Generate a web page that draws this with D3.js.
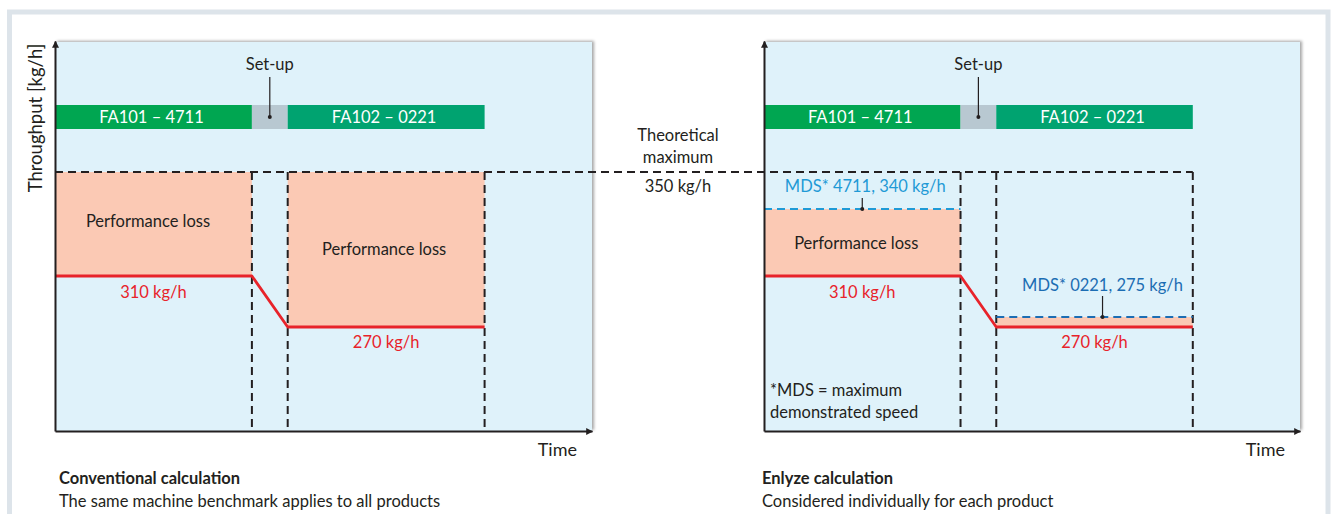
<!DOCTYPE html>
<html><head><meta charset="utf-8">
<script src="https://cdn.jsdelivr.net/npm/d3@7"></script>
<style>
html,body{margin:0;padding:0;background:#fff;}
svg{display:block;font-family:Lato,"Open Sans",sans-serif;}
</style></head>
<body>
<svg id="chart" width="1336" height="514"></svg>
<script>
// ---------- data ----------
const phaseLabels = ["FA101 – 4711", "Set-up", "FA102 – 0221"];
const phaseStart  = [0, 5.5, 6.5];
const phaseEnd    = [5.5, 6.5, 12];
const timeMax = 15;
const theoreticalMax = 350;
const actualTimes  = [0, 5.5, 6.5, 12];
const actualValues = [310, 310, 270, 270];
const actualLabels = ["310 kg/h", "270 kg/h"];
const mdsValues = [340, 275];
const mdsLabels = ["MDS* 4711, 340 kg/h", "MDS* 0221, 275 kg/h"];
// schematic (piecewise) throughput axis
const yDomain = [0, 270, 275, 310, 340, 350, 400];
const panelTitles = ["Conventional calculation", "Enlyze calculation"];
const panelSubtitles = ["The same machine benchmark applies to all products", "Considered individually for each product"];

// ---------- style ----------
const C = {panel:"#dff2fa", peach:"#fbc9b4", red:"#e8232a", ink:"#231f20", text:"#231f20",
  g1:"#00a651", g2:"#00a370", setup:"#b8c8d1", mds1:"#1f9ad6", mds2:"#1b6db3", frame:"#dde4ea"};

const svg = d3.select("#chart");
const defs = svg.append("defs");
const f = defs.append("filter").attr("id","sh").attr("x","-5%").attr("y","-5%").attr("width","110%").attr("height","110%");
f.append("feDropShadow").attr("dx",2).attr("dy",-1).attr("stdDeviation",1.8).attr("flood-color","#000").attr("flood-opacity",0.35);
defs.append("marker").attr("id","arr").attr("viewBox","0 0 10 10").attr("refX",9).attr("refY",5)
  .attr("markerWidth",7).attr("markerHeight",7).attr("markerUnits","userSpaceOnUse").attr("orient","auto")
  .append("path").attr("d","M0,0 L10,5 L0,10 Z").attr("fill",C.ink);

// outer frame
svg.append("rect").attr("x",9.5).attr("y",12).attr("width",1318.5).attr("height",540)
  .attr("fill","none").attr("stroke",C.frame).attr("stroke-width",5);

const y = d3.scaleLinear().domain(yDomain).range([431, 327, 317, 276, 209, 172, 42]);
const xL = d3.scaleLinear().domain([0, timeMax]).range([55, 592]);
const xR = d3.scaleLinear().domain([0, timeMax]).range([764, 1300]);
const barTop = 105, barH = 24;
const dash = "8,5";
const fs = 16.5;

function panel(x, idx){
  const g = svg.append("g");
  // background
  g.append("rect").attr("x",x(0)).attr("y",y(400)).attr("width",x(timeMax)-x(0)).attr("height",y(0)-y(400))
    .attr("fill",C.panel).attr("filter","url(#sh)");
  // phase bars
  const colors = [C.g1, C.setup, C.g2];
  phaseLabels.forEach((lab,i)=>{
    g.append("rect").attr("x",x(phaseStart[i])).attr("y",barTop).attr("width",x(phaseEnd[i])-x(phaseStart[i])).attr("height",barH)
      .attr("fill",colors[i]);
    if(i!==1){
      g.append("text").attr("x",(x(phaseStart[i])+x(phaseEnd[i]))/2-2).attr("y",barTop+barH/2+6)
        .attr("text-anchor","middle").attr("fill","#fff").attr("font-size",fs).text(lab);
    } else {
      const cx=(x(phaseStart[i])+x(phaseEnd[i]))/2;
      g.append("text").attr("x",cx).attr("y",70).attr("text-anchor","middle").attr("fill",C.text).attr("font-size",fs).text(lab);
      g.append("line").attr("x1",cx).attr("x2",cx).attr("y1",77).attr("y2",117).attr("stroke",C.text).attr("stroke-width",1.2);
      g.append("circle").attr("cx",cx).attr("cy",117).attr("r",2).attr("fill",C.ink);
    }
  });
  // peach loss areas
  const topVals = idx===0 ? [theoreticalMax, theoreticalMax] : mdsValues;
  [[0,1],[2,3]].forEach((p,k)=>{
    const t0 = actualTimes[p[0]], t1 = actualTimes[p[1]];
    g.append("rect").attr("x",x(t0)).attr("y",y(topVals[k])).attr("width",x(t1)-x(t0))
      .attr("height",y(actualValues[p[0]])-y(topVals[k])).attr("fill",C.peach);
  });
  // vertical dashed lines
  [phaseEnd[0], phaseEnd[1], phaseEnd[2]].forEach(t=>{
    g.append("line").attr("x1",x(t)).attr("x2",x(t)).attr("y1",y(theoreticalMax)).attr("y2",y(0))
      .attr("stroke",C.ink).attr("stroke-width",2).attr("stroke-dasharray",dash);
  });
  // MDS dashed lines
  if(idx===1){
    const mc=[C.mds1,C.mds2];
    [[0,1],[2,3]].forEach((p,k)=>{
      const t0 = actualTimes[p[0]], t1 = actualTimes[p[1]];
      g.append("line").attr("x1",x(t0)).attr("x2",x(t1)).attr("y1",y(mdsValues[k])).attr("y2",y(mdsValues[k]))
        .attr("stroke",mc[k]).attr("stroke-width",2).attr("stroke-dasharray",dash);
    });
  }
  // actual throughput line
  const line = d3.line().x((d,i)=>x(actualTimes[i])).y(d=>y(d));
  g.append("path").attr("d",line(actualValues)).attr("fill","none").attr("stroke",C.red)
    .attr("stroke-width",2.8).attr("stroke-linejoin","round");
  // axes
  const yAx = d3.axisLeft(d3.scaleLinear().domain([0,1]).range([y(0), y(400)-1])).tickValues([]).tickSizeOuter(0);
  const ya = g.append("g").attr("transform",`translate(${x(0)},0)`).call(yAx);
  ya.select(".domain").attr("stroke",C.ink).attr("stroke-width",2).attr("marker-end","url(#arr)");
  const xAx = d3.axisBottom(d3.scaleLinear().domain([0,1]).range([x(0), x(timeMax)])).tickValues([]).tickSizeOuter(0);
  const xa = g.append("g").attr("transform",`translate(0,${y(0)})`).call(xAx);
  xa.select(".domain").attr("stroke",C.ink).attr("stroke-width",2).attr("marker-end","url(#arr)");
  g.append("text").attr("x",x(timeMax)-15).attr("y",456).attr("text-anchor","end").attr("fill",C.text).attr("font-size",18).text("Time");
  // labels
  if(idx===0){
    g.append("text").attr("x",148).attr("y",y(theoreticalMax)+55).attr("text-anchor","middle").attr("fill",C.text).attr("font-size",fs).text("Performance loss");
    g.append("text").attr("x",(x(phaseStart[2])+x(phaseEnd[2]))/2-2).attr("y",y(theoreticalMax)+83).attr("text-anchor","middle").attr("fill",C.text).attr("font-size",fs).text("Performance loss");
    g.append("text").attr("transform",`translate(42,118) rotate(-90)`).attr("text-anchor","middle").attr("fill",C.text).attr("font-size",18.5).text("Throughput [kg/h]");
  } else {
    const c1 = (x(phaseStart[0])+x(phaseEnd[0]))/2;
    const c2 = (x(phaseStart[2])+x(phaseEnd[2]))/2;
    g.append("text").attr("x",c1-6).attr("y",(y(mdsValues[0])+y(actualValues[0]))/2+6).attr("text-anchor","middle").attr("fill",C.text).attr("font-size",fs).text("Performance loss");
    g.append("text").attr("x",c1+3).attr("y",y(mdsValues[0])-17).attr("text-anchor","middle").attr("fill",C.mds1).attr("font-size",fs).text(mdsLabels[0]);
    g.append("line").attr("x1",c1).attr("x2",c1).attr("y1",y(mdsValues[0])-11).attr("y2",y(mdsValues[0])).attr("stroke",C.ink).attr("stroke-width",1.2);
    g.append("circle").attr("cx",c1).attr("cy",y(mdsValues[0])).attr("r",2).attr("fill",C.ink);
    g.append("text").attr("x",c2+8).attr("y",y(mdsValues[1])-26).attr("text-anchor","middle").attr("fill",C.mds2).attr("font-size",fs).text(mdsLabels[1]);
    g.append("line").attr("x1",c2+8).attr("x2",c2+8).attr("y1",y(mdsValues[1])-21).attr("y2",y(mdsValues[1])).attr("stroke",C.ink).attr("stroke-width",1.2);
    g.append("circle").attr("cx",c2+8).attr("cy",y(mdsValues[1])).attr("r",2).attr("fill",C.ink);
    g.append("text").attr("x",x(0)+6).attr("y",396).attr("fill",C.text).attr("font-size",fs).text("*MDS = maximum");
    g.append("text").attr("x",x(0)+6).attr("y",418).attr("fill",C.text).attr("font-size",fs).text("demonstrated speed");
  }
  const c1 = (x(phaseStart[0])+x(phaseEnd[0]))/2, c2=(x(phaseStart[2])+x(phaseEnd[2]))/2;
  g.append("text").attr("x",c1).attr("y",y(actualValues[0])+22).attr("text-anchor","middle").attr("fill",C.red).attr("font-size",fs).text(actualLabels[0]);
  g.append("text").attr("x",c2).attr("y",y(actualValues[2])+21).attr("text-anchor","middle").attr("fill",C.red).attr("font-size",fs).text(actualLabels[1]);
  // captions
  g.append("text").attr("x",x(0)+(idx===0?4:-2)).attr("y",484).attr("fill",C.ink).attr("font-size",16.5).attr("font-weight","bold").text(panelTitles[idx]);
  g.append("text").attr("x",x(0)+(idx===0?4:-2)).attr("y",507).attr("fill",C.text).attr("font-size",16.5).text(panelSubtitles[idx]);
}
panel(xL,0);
panel(xR,1);

// theoretical maximum dashed line spanning both panels
svg.append("line").attr("x1",xL(0)).attr("x2",xR(phaseEnd[2])).attr("y1",y(theoreticalMax)).attr("y2",y(theoreticalMax))
  .attr("stroke",C.ink).attr("stroke-width",2).attr("stroke-dasharray",dash);
const midX = (xL(timeMax)+xR(0))/2;
svg.append("text").attr("x",midX).attr("y",141).attr("text-anchor","middle").attr("fill",C.text).attr("font-size",fs).text("Theoretical");
svg.append("text").attr("x",midX).attr("y",163).attr("text-anchor","middle").attr("fill",C.text).attr("font-size",fs).text("maximum");
svg.append("text").attr("x",midX).attr("y",y(theoreticalMax)+20).attr("text-anchor","middle").attr("fill",C.text).attr("font-size",fs).text(theoreticalMax+" kg/h");
</script>
</body></html>
